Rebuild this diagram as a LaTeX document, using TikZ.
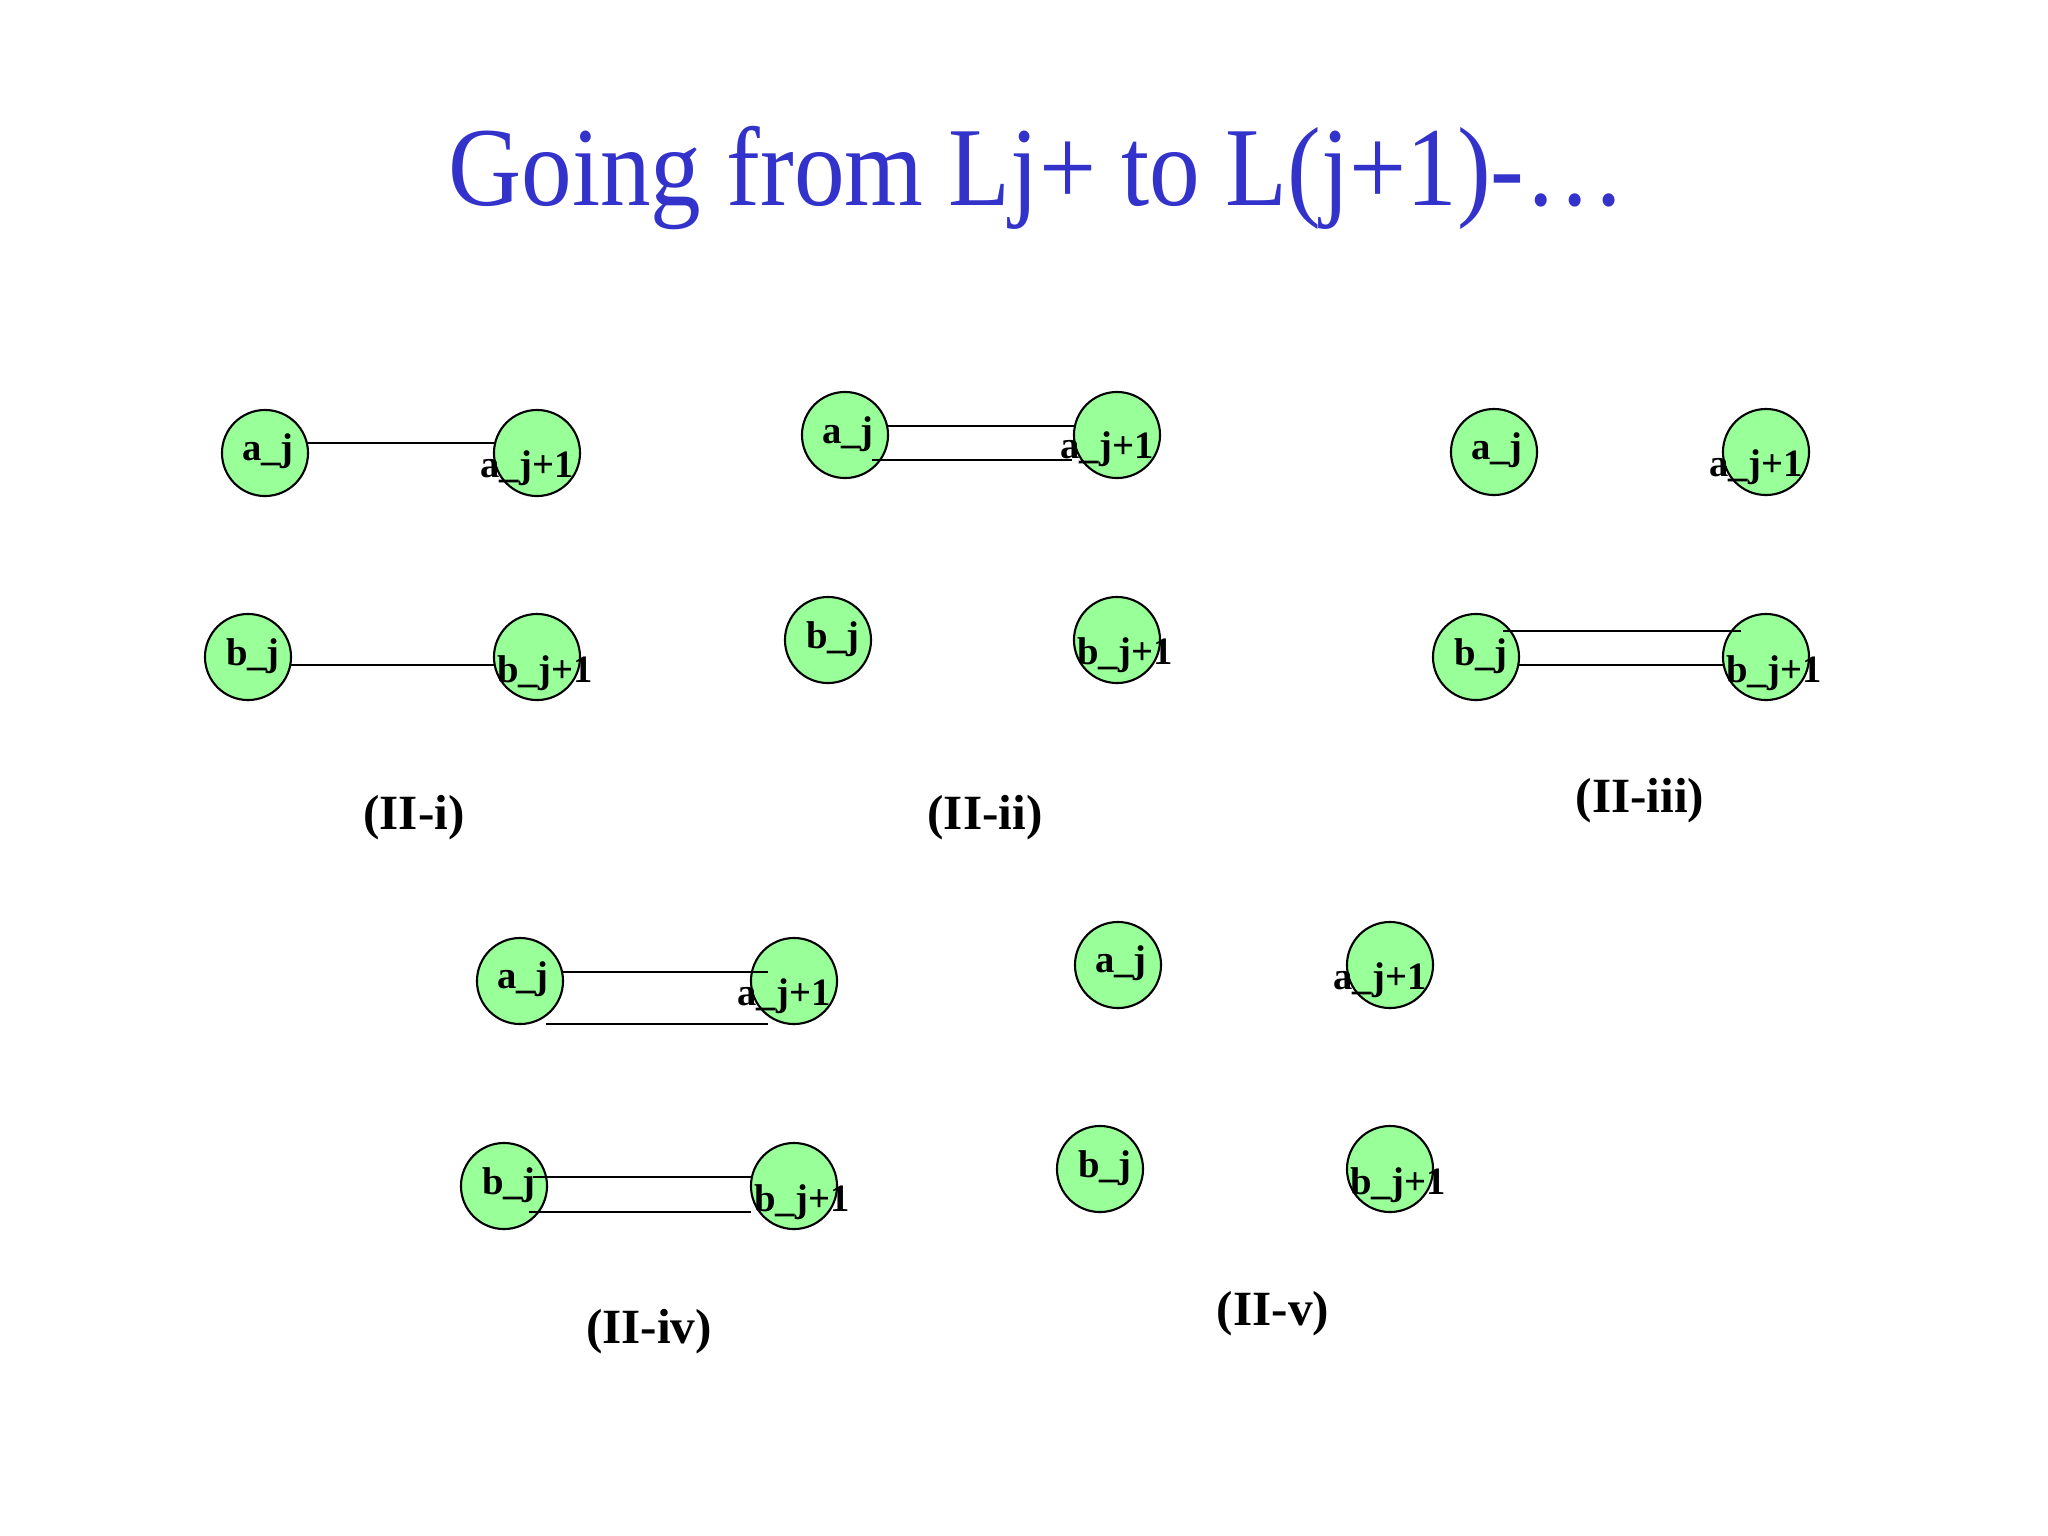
\documentclass[tikz,border=0pt]{standalone}
\usepackage{fontspec}
\setmainfont{Liberation Serif}
\usetikzlibrary{calc}
\definecolor{titleblue}{RGB}{51,51,204}
\definecolor{nodegreen}{RGB}{153,255,153}
\begin{document}
\begin{tikzpicture}[x=0.01cm,y=-0.01cm,
  vert/.style={circle,draw=black,fill=nodegreen,line width=0.6pt,minimum size=0.86cm,inner sep=0pt},
  lbl/.style={anchor=base,font=\fontsize{11}{13}\selectfont\bfseries,inner sep=0pt},
  capt/.style={anchor=base,font=\fontsize{14}{17}\selectfont\bfseries,inner sep=0pt},
  edgeline/.style={line width=0.6pt}]
\useasboundingbox (0,0) rectangle (2048,1536);
\node[anchor=base,text=titleblue,font=\fontsize{32}{38}\selectfont,inner sep=0pt] (title) at (1037,205) {\scalebox{0.9}[1]{Going from Lj+ to L(j+1)-…}};

% ---- Panel II-i
\node[vert] (p1a) at (265,453) {};
\node[vert] (p1a1) at (537,453) {};
\node[vert] (p1b) at (248,657) {};
\node[vert] (p1b1) at (537,657) {};
\draw[edgeline] ($(p1a)+(42,-10)$) -- ($(p1a1)+(-42,-10)$);
\draw[edgeline] ($(p1b)+(42,8)$) -- ($(p1b1)+(-43,8)$);
\node[lbl] (p1al) at ($(p1a)+(3,7)$) {a\_j};
\node[lbl] (p1a1l) at ($(p1a1)+(-10,24)$) {a\_j+1};
\node[lbl] (p1bl) at ($(p1b)+(5,8)$) {b\_j};
\node[lbl] (p1b1l) at ($(p1b1)+(8,25)$) {b\_j+1};
\node[capt] (c1) at (414,829) {(II-i)};

% ---- Panel II-ii
\node[vert] (p2a) at (845,435) {};
\node[vert] (p2a1) at (1117,435) {};
\node[vert] (p2b) at (828,640) {};
\node[vert] (p2b1) at (1117,640) {};
\draw[edgeline] ($(p2a)+(42,-9)$) -- ($(p2a1)+(-42,-9)$);
\draw[edgeline] ($(p2a)+(27,25)$) -- ($(p2a1)+(-45,25)$);
\node[lbl] (p2al) at ($(p2a)+(3,8)$) {a\_j};
\node[lbl] (p2a1l) at ($(p2a1)+(-10,23)$) {a\_j+1};
\node[lbl] (p2bl) at ($(p2b)+(5,8)$) {b\_j};
\node[lbl] (p2b1l) at ($(p2b1)+(8,24)$) {b\_j+1};
\node[capt] (c2) at (985,829) {(II-ii)};

% ---- Panel II-iii
\node[vert] (p3a) at (1494,452) {};
\node[vert] (p3a1) at (1766,452) {};
\node[vert] (p3b) at (1476,657) {};
\node[vert] (p3b1) at (1766,657) {};
\draw[edgeline] ($(p3b)+(27,-26)$) -- ($(p3b1)+(-25,-26)$);
\draw[edgeline] ($(p3b)+(43,8)$) -- ($(p3b1)+(-43,8)$);
\node[lbl] (p3al) at ($(p3a)+(3,7)$) {a\_j};
\node[lbl] (p3a1l) at ($(p3a1)+(-10,24)$) {a\_j+1};
\node[lbl] (p3bl) at ($(p3b)+(5,8)$) {b\_j};
\node[lbl] (p3b1l) at ($(p3b1)+(8,25)$) {b\_j+1};
\node[capt] (c3) at (1640,812) {(II-iii)};

% ---- Panel II-iv
\node[vert] (p4a) at (520,981) {};
\node[vert] (p4a1) at (794,981) {};
\node[vert] (p4b) at (504,1186) {};
\node[vert] (p4b1) at (794,1186) {};
\draw[edgeline] ($(p4a)+(43,-9)$) -- ($(p4a1)+(-26,-9)$);
\draw[edgeline] ($(p4a)+(26,43)$) -- ($(p4a1)+(-26,43)$);
\draw[edgeline] ($(p4b)+(29,-9)$) -- ($(p4b1)+(-42,-9)$);
\draw[edgeline] ($(p4b)+(25,26)$) -- ($(p4b1)+(-43,26)$);
\node[lbl] (p4al) at ($(p4a)+(3,7)$) {a\_j};
\node[lbl] (p4a1l) at ($(p4a1)+(-10,24)$) {a\_j+1};
\node[lbl] (p4bl) at ($(p4b)+(5,8)$) {b\_j};
\node[lbl] (p4b1l) at ($(p4b1)+(8,25)$) {b\_j+1};
\node[capt] (c4) at (649,1343) {(II-iv)};

% ---- Panel II-v
\node[vert] (p5a) at (1118,965) {};
\node[vert] (p5a1) at (1390,965) {};
\node[vert] (p5b) at (1100,1169) {};
\node[vert] (p5b1) at (1390,1169) {};
\node[lbl] (p5al) at ($(p5a)+(3,7)$) {a\_j};
\node[lbl] (p5a1l) at ($(p5a1)+(-10,24)$) {a\_j+1};
\node[lbl] (p5bl) at ($(p5b)+(5,8)$) {b\_j};
\node[lbl] (p5b1l) at ($(p5b1)+(8,25)$) {b\_j+1};
\node[capt] (c5) at (1273,1325) {(II-v)};
\end{tikzpicture}
\end{document}
